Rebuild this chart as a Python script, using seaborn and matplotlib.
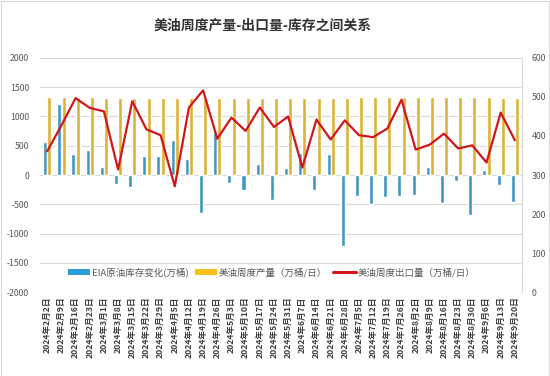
import numpy as np
import pandas as pd
import matplotlib
matplotlib.use('Agg')
import matplotlib.pyplot as plt
from matplotlib.patches import Patch, Rectangle
from matplotlib.lines import Line2D
import seaborn as sns

sns.set_style('white')
plt.rcParams['font.family'] = ['Noto Sans CJK SC', 'DejaVu Sans']
plt.rcParams['axes.unicode_minus'] = False

# 日期
dates = ['2024年2月2日', '2024年2月9日', '2024年2月16日', '2024年2月23日',
         '2024年3月1日', '2024年3月8日', '2024年3月15日', '2024年3月22日', '2024年3月29日',
         '2024年4月5日', '2024年4月12日', '2024年4月19日', '2024年4月26日',
         '2024年5月3日', '2024年5月10日', '2024年5月17日', '2024年5月24日', '2024年5月31日',
         '2024年6月7日', '2024年6月14日', '2024年6月21日', '2024年6月28日',
         '2024年7月5日', '2024年7月12日', '2024年7月19日', '2024年7月26日',
         '2024年8月2日', '2024年8月9日', '2024年8月16日', '2024年8月23日', '2024年8月30日',
         '2024年9月6日', '2024年9月13日', '2024年9月20日']

# EIA原油库存变化(万桶)
inventory = [560, 1210, 355, 428, 142, -160, -205, 325, 328, 590, 278, -645, 730,
             -142, -258, 190, -418, 128, 376, -260, 364, -1220, -350, -490, -382,
             -352, -340, 142, -470, -95, -690, 92, -170, -455]

# 美油周度产量（万桶/日）
production = [1330, 1330, 1330, 1330, 1320, 1310, 1310, 1310, 1310, 1310, 1310, 1310,
              1310, 1310, 1310, 1310, 1310, 1310, 1320, 1320, 1320, 1320, 1330, 1330,
              1330, 1330, 1340, 1330, 1340, 1330, 1330, 1330, 1320, 1320]

# 美油周度出口量（万桶/日）
exports = [361, 427, 497, 472, 463, 314, 489, 417, 402, 271, 473, 517, 393, 447,
           413, 473, 423, 450, 319, 442, 391, 440, 402, 397, 419, 493, 365, 378,
           406, 368, 376, 332, 460, 389]

lab_inv = 'EIA原油库存变化(万桶)'
lab_prod = '美油周度产量（万桶/日）'
lab_exp = '美油周度出口量（万桶/日）'
c_blue = '#2A9FD6'
c_yellow = '#F7C11A'
c_red = '#D0181C'

df = pd.DataFrame({
    '日期': dates * 2,
    '系列': [lab_inv] * len(dates) + [lab_prod] * len(dates),
    '值': inventory + production,
})

fig = plt.figure(figsize=(5.5, 3.76), dpi=100)
ax = fig.add_axes([0.073, 0.223, 0.876, 0.623])

sns.barplot(data=df, x='日期', y='值', hue='系列', hue_order=[lab_inv, lab_prod],
            palette=[c_blue, c_yellow], width=0.6, gap=0.05, errorbar=None,
            legend=False, ax=ax, zorder=2)
ax.set_ylim(-2000, 2000)
ax.set_yticks(np.arange(-2000, 2001, 500))
ax.set_xlabel('')
ax.set_ylabel('')
ax.set_axisbelow(True)
ax.yaxis.grid(True, color='#d9d9d9', linewidth=0.8)
ax.tick_params(axis='y', length=0, labelsize=6.3, labelcolor='#595959', pad=8)
ax.tick_params(axis='x', length=0, pad=3)
ax.set_xticks(range(len(dates)))
ax.set_xticklabels(dates, rotation=90, fontsize=6.2, fontweight='bold', color='#404040', va='top')
for s in ['top', 'left', 'bottom', 'right']:
    ax.spines[s].set_visible(False)

ax2 = ax.twinx()
sns.lineplot(x=np.arange(len(exports)), y=exports, color=c_red, linewidth=1.6, ax=ax2)
ax2.set_ylim(0, 600)
ax2.set_yticks(np.arange(0, 601, 100))
ax2.tick_params(axis='y', length=0, labelsize=6.3, labelcolor='#595959', pad=7)
for s in ['top', 'left', 'bottom']:
    ax2.spines[s].set_visible(False)
ax2.spines['right'].set_color('#d9d9d9')
ax2.spines['right'].set_linewidth(0.8)
ax2.set_xlim(-0.5, len(dates) - 0.5)

handles = [Patch(facecolor=c_blue, edgecolor='none'),
           Patch(facecolor=c_yellow, edgecolor='none'),
           Line2D([0], [0], color=c_red, linewidth=2.2)]
leg = ax2.legend(handles, [lab_inv, lab_prod, lab_exp], loc='center', bbox_to_anchor=(0.48, 0.085),
                 ncol=3, frameon=False, fontsize=6.8, handlelength=2.4, handleheight=0.6,
                 handletextpad=0.2, columnspacing=0.6)
for t in leg.get_texts():
    t.set_color('#595959')

fig.suptitle('美油周度产量-出口量-库存之间关系', x=0.477, y=0.95, fontsize=10,
             fontweight='bold', color='#333333')
fig.patches.append(Rectangle((0.001, 0.001), 0.997, 0.997, transform=fig.transFigure,
                             fill=False, edgecolor='#d9d9d9', linewidth=0.8))

fig.savefig('out.png', dpi=100)
